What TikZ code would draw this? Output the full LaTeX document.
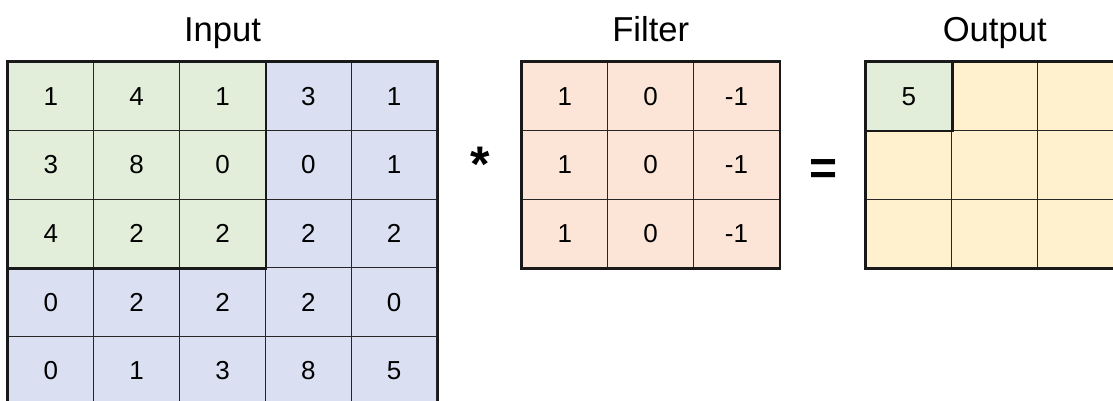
\documentclass[tikz,border=0pt]{standalone}
\usepackage{fontspec}
\setmainfont{Liberation Sans}
\usepackage{tikz}
\usetikzlibrary{positioning,calc}

\definecolor{ingreen}{HTML}{E2EEDA}
\definecolor{inblue}{HTML}{DAE0F2}
\definecolor{filtpeach}{HTML}{FCE4D7}
\definecolor{outyellow}{HTML}{FFF1CE}

\tikzstyle{cell} = [rectangle,draw=black!85,line width=1.3pt,inner sep=0pt,
  minimum width=85.8pt,minimum height=68.6pt,font=\fontsize{26}{30}\selectfont]
\tikzstyle{frame} = [draw=black!90,line width=2.3pt]
\tikzstyle{title} = [anchor=base,inner sep=0pt,font=\fontsize{34.6}{40}\selectfont]
\tikzstyle{op} = [anchor=base,inner sep=0pt]

\begin{document}
\begin{tikzpicture}[x=1pt,y=-1pt]
    \useasboundingbox (0,0) rectangle (1113,400);
    \clip (0,0) rectangle (1113,400);

    % input image, the 3x3 window in green
    \foreach \row [count=\r] in {{1,4,1,3,1},{3,8,0,0,1},{4,2,2,2,2},{0,2,2,2,0},{0,1,3,8,5}}
      \foreach \v [count=\c] in \row {
        \ifnum\r<4 \ifnum\c<4 \def\cellcol{ingreen}\else\def\cellcol{inblue}\fi
        \else \def\cellcol{inblue}\fi
        \node [cell,fill=\cellcol] (in-\r-\c) at (8+85.8*\c-42.9,62+68.6*\r-34.3) {\v};
      }
    \draw [frame] (in-1-1.north west) rectangle (in-5-5.south east);
    \draw [frame] (in-1-1.north west) rectangle (in-3-3.south east);

    % filter
    \foreach \row [count=\r] in {{1,0,-1},{1,0,-1},{1,0,-1}}
      \foreach \v [count=\c] in \row
        \node [cell,fill=filtpeach] (f-\r-\c) at (522+85.8*\c-42.9,62+68.6*\r-34.3) {\v};
    \draw [frame] (f-1-1.north west) rectangle (f-3-3.south east);

    % output, only the first entry is filled in
    \foreach \r in {1,2,3}
      \foreach \c in {1,2,3}
        \node [cell,fill=outyellow] (out-\r-\c) at (866+85.8*\c-42.9,62+68.6*\r-34.3) {};
    \node [cell,fill=ingreen] at (out-1-1) {5};
    \draw [frame] (out-1-1.north west) rectangle (out-3-3.south east);
    \draw [frame] (out-1-1.north west) rectangle (out-1-1.south east);

    \node [title] (in-title) at (in-1-3.north |- 0,41) {Input};
    \node [title] (f-title) at (f-1-2.north |- 0,41) {Filter};
    \node [title] (out-title) at (out-1-2.north |- 0,41) {Output};

    \node [op,font=\fontsize{50}{50}\selectfont\bfseries] (star) at (480.5,181) {*};
    \node [op,font=\fontsize{48}{48}\selectfont\bfseries] (eq) at (823.5,184) {=};
\end{tikzpicture}
\end{document}
